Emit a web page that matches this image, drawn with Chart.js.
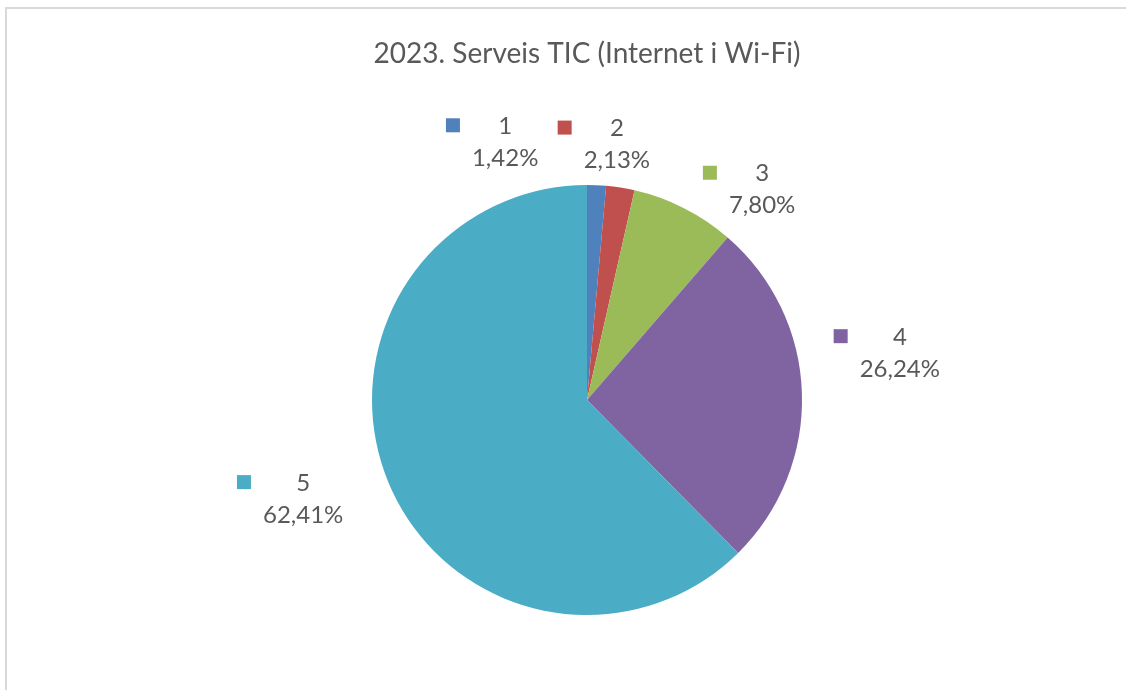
<!DOCTYPE html>
<html>
<head>
<meta charset="utf-8">
<script src="https://cdn.jsdelivr.net/npm/chart.js@4.4.1/dist/chart.umd.min.js"></script>
<style>
  html, body { margin: 0; padding: 0; background: #fff; overflow: hidden; }
  #frame {
    position: absolute; left: 5px; top: 7px;
    width: 1200px; height: 800px;
    border: 2px solid #d9d9d9;
  }
  #wrap { position: absolute; left: 0; top: 0; width: 1126px; height: 690px; }
</style>
</head>
<body>
<div id="frame"></div>
<div id="wrap"><canvas id="chart"></canvas></div>
<script>
const categories = ['1', '2', '3', '4', '5'];
const shares = [1.42, 2.13, 7.80, 26.24, 62.41];
const sliceColors = ['#4f81bd', '#c0504d', '#9bbb59', '#8064a2', '#4bacc6'];

// where each data label sits, relative to a point just outside its slice
const labelNudge = [[-95, 37], [-16, 36], [42, 53], [18, -37], [-11, -13]];

const textColor = '#595959';
const fontFamily = 'Lato, "Open Sans", sans-serif';

const pctText = v => v.toFixed(2).replace('.', ',') + '%';

const sliceLabels = {
  id: 'sliceLabels',
  afterDatasetsDraw(chart) {
    const ctx = chart.ctx;
    const meta = chart.getDatasetMeta(0);
    ctx.save();
    ctx.font = '24px ' + fontFamily;
    ctx.fillStyle = textColor;
    ctx.textAlign = 'center';
    ctx.textBaseline = 'middle';
    meta.data.forEach((arc, i) => {
      const p = arc.getProps(['x', 'y', 'startAngle', 'endAngle', 'outerRadius'], true);
      const mid = (p.startAngle + p.endAngle) / 2;
      const R = p.outerRadius + 80;
      const cx = p.x + R * Math.cos(mid) + labelNudge[i][0];
      const cy = p.y + R * Math.sin(mid) + labelNudge[i][1];
      const pct = pctText(shares[i]);
      const w = ctx.measureText(pct).width;
      const y1 = cy - 16, y2 = cy + 16;
      ctx.fillStyle = sliceColors[i];
      ctx.fillRect(cx - w / 2 - 26, y1 - 8, 14, 14);
      ctx.fillStyle = textColor;
      ctx.fillText(categories[i], cx, y1);
      ctx.fillText(pct, cx, y2);
    });
    ctx.restore();
  }
};

new Chart(document.getElementById('chart'), {
  type: 'pie',
  data: {
    labels: categories,
    datasets: [{
      data: shares,
      backgroundColor: sliceColors,
      borderWidth: 0
    }]
  },
  options: {
    responsive: true,
    maintainAspectRatio: false,
    animation: false,
    layout: { padding: { left: 372, right: 324, top: 0, bottom: 75 } },
    plugins: {
      legend: { display: false },
      tooltip: { enabled: false },
      title: {
        display: true,
        text: '2023. Serveis TIC (Internet i Wi-Fi)',
        color: textColor,
        font: { family: fontFamily, size: 28, weight: 'normal', lineHeight: 1.2 },
        padding: { top: 37, bottom: 114.4 }
      }
    }
  },
  plugins: [sliceLabels]
});
</script>
</body>
</html>
